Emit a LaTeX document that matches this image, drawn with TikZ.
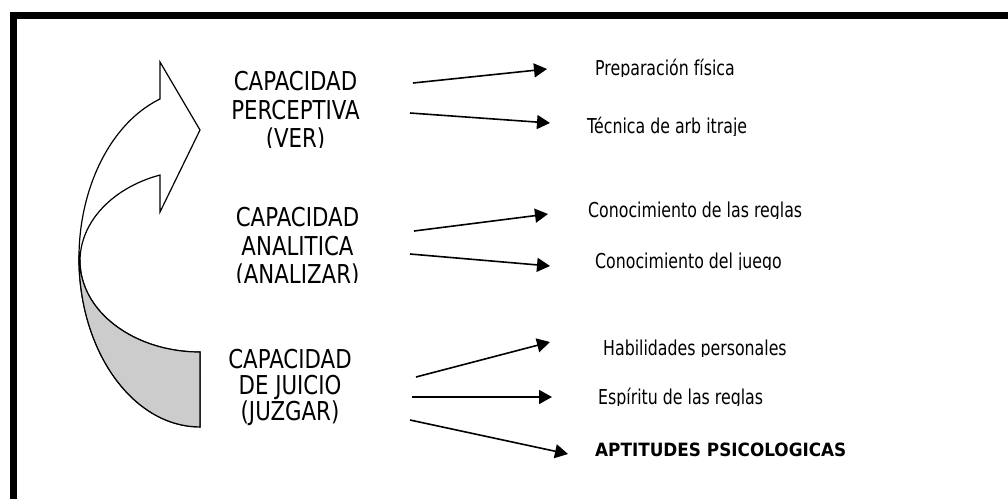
\documentclass[tikz,border=0pt]{standalone}
\usepackage{fontspec}
\setmainfont{DejaVu Sans}[FakeStretch=0.77]
\newfontfamily\capfont{DejaVu Sans}[FakeStretch=0.82]
\newfontfamily\psicofont{DejaVu Sans}[FakeStretch=0.92]
\usetikzlibrary{arrows.meta}

\begin{document}
\begin{tikzpicture}[x=1pt, y=1pt,
        flecha/.style={line width=1.6pt, -{Triangle[length=13pt,width=14pt]}},
        capacidad/.style={align=center, font=\capfont\fontsize{26}{28.5}\selectfont},
        aptitud/.style={anchor=base west, inner sep=0pt, font=\fontsize{20.5}{24}\selectfont}]
        \useasboundingbox (0,0) rectangle (1008,-499);
        % marco
        \draw[line width=7pt] (13,-499) -- (13,-15.5) -- (1008,-15.5);
        % flecha curva
        \draw[line width=1.2pt, fill=white] (160,-99) arc[start angle=109.3, end angle=270, x radius=121pt, y radius=168.7pt]
            -- (200,-352) arc[start angle=270, end angle=109.5, x radius=120pt, y radius=91.1pt]
            -- (160,-212) -- (200,-130) -- (160,-62) -- cycle;
        \draw[line width=1.2pt, fill=black!20] (79,-258.2) arc[start angle=180, end angle=270, x radius=121pt, y radius=168.7pt]
            -- (200,-352) arc[start angle=270, end angle=180, x radius=120pt, y radius=91.1pt] -- cycle;

        % textos (cortados como en los cuadros de texto)
        \begin{scope}
            \clip (215,-50) rectangle (380,-147.5) (215,-190) rectangle (380,-282.5) (215,-330) rectangle (380,-425)
                (580,-50) rectangle (1000,-76.5) (580,-110) rectangle (1000,-135)
                (580,-195) rectangle (1000,-218.5) (580,-245) rectangle (1000,-269.5)
                (580,-335) rectangle (1000,-356.5) (580,-380) rectangle (1000,-405.5)
                (580,-435) rectangle (1000,-470);
            \node[capacidad] (ver) at (295.5,-111.4) {CAPACIDAD\\PERCEPTIVA\\(VER)};
            \node[capacidad] (analizar) at (297.5,-247.4) {CAPACIDAD\\ANALITICA\\(ANALIZAR)};
            \node[capacidad, font=\capfont\fontsize{26}{26}\selectfont] (juzgar) at (290,-387.5) {CAPACIDAD\\DE JUICIO\\(JUZGAR)};

            \node[aptitud] (prep) at (595,-75) {Preparación física};
            \node[aptitud] (tec) at (587,-133.5) {Técnica de arb itraje};
            \node[aptitud] (reglas) at (588,-217) {Conocimiento de las reglas};
            \node[aptitud] (juego) at (595,-268) {Conocimiento del juego};
            \node[aptitud] (habil) at (603,-355) {Habilidades personales};
            \node[aptitud] (espiritu) at (598,-404) {Espíritu de las reglas};
            \node[aptitud, font=\psicofont\bfseries\fontsize{18.3}{22}\selectfont] (psico) at (595,-456.7) {APTITUDES PSICOLOGICAS};
        \end{scope}

        \coordinate (ver1) at (413,-83);
        \coordinate (ver2) at (410,-113);
        \coordinate (ana1) at (414,-231);
        \coordinate (ana2) at (410,-254);
        \coordinate (juz1) at (416,-377);
        \coordinate (juz2) at (412,-397);
        \coordinate (juz3) at (410,-420);
        \coordinate (prep-a) at (547,-69);
        \coordinate (tec-a) at (550,-123);
        \coordinate (reglas-a) at (548,-214);
        \coordinate (juego-a) at (550,-266);
        \coordinate (habil-a) at (550,-342);
        \coordinate (espiritu-a) at (552,-397);
        \coordinate (psico-a) at (568,-454);
        \draw[flecha] (ver1) -- (prep-a);
        \draw[flecha] (ver2) -- (tec-a);
        \draw[flecha] (ana1) -- (reglas-a);
        \draw[flecha] (ana2) -- (juego-a);
        \draw[flecha] (juz1) -- (habil-a);
        \draw[flecha] (juz2) -- (espiritu-a);
        \draw[flecha] (juz3) -- (psico-a);
    \end{tikzpicture}
\end{document}
